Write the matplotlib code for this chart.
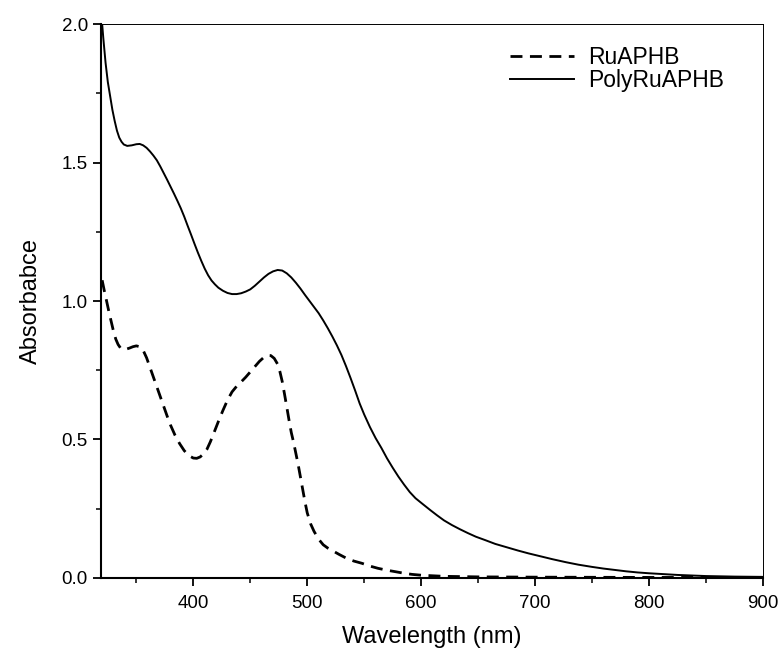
import matplotlib.pyplot as plt
from matplotlib.ticker import MultipleLocator

plt.rcParams['font.family'] = ['Liberation Sans', 'DejaVu Sans']

# PolyRuAPHB (solid)
wl_poly = [320, 321, 323, 325, 327, 329, 331, 333, 335, 337, 339, 342, 346, 350,
           353, 356, 359, 362, 365, 368, 371, 374, 377, 380, 383, 386, 389, 392,
           395, 398, 401, 404, 407, 410, 413, 416, 419, 422, 426, 430, 434, 438,
           442, 446, 450, 454, 458, 462, 466, 470, 474, 478, 482, 486, 490, 494,
           498, 502, 506, 510, 514, 518, 522, 526, 530, 534, 538, 542, 546, 550,
           555, 560, 565, 570, 575, 580, 585, 590, 595, 601, 608, 614, 620, 627,
           634, 641, 648, 656, 665, 675, 685, 694, 705, 715, 727, 738, 750, 760,
           770, 780, 790, 800, 825, 850, 875, 900]
abs_poly = [2.00, 1.95, 1.86, 1.79, 1.74, 1.69, 1.65, 1.615, 1.59, 1.575, 1.565,
            1.56, 1.562, 1.566, 1.567, 1.562, 1.553, 1.54, 1.525, 1.508, 1.486,
            1.462, 1.438, 1.413, 1.388, 1.362, 1.335, 1.305, 1.272, 1.24, 1.207,
            1.175, 1.145, 1.117, 1.093, 1.074, 1.06, 1.048, 1.037, 1.029, 1.025,
            1.025, 1.028, 1.034, 1.042, 1.055, 1.07, 1.085, 1.098, 1.107, 1.112,
            1.11, 1.10, 1.085, 1.066, 1.045, 1.022, 1.0, 0.978, 0.956, 0.93,
            0.902, 0.872, 0.84, 0.805, 0.765, 0.722, 0.677, 0.63, 0.59, 0.545,
            0.505, 0.47, 0.432, 0.398, 0.366, 0.337, 0.31, 0.288, 0.268, 0.245,
            0.226, 0.208, 0.191, 0.176, 0.162, 0.149, 0.137, 0.123, 0.111, 0.099,
            0.089, 0.078, 0.068, 0.057, 0.048, 0.04, 0.034, 0.029, 0.024, 0.02,
            0.017, 0.011, 0.007, 0.005, 0.004]

# RuAPHB (dashed)
wl_ru = [320, 322, 324, 326, 328, 330, 332, 334, 336, 338, 341, 344, 347, 350,
         353, 356, 359, 362, 365, 368, 371, 374, 377, 380, 384, 388, 392, 396,
         400, 403, 406, 409, 412, 415, 418, 422, 426, 430, 434, 438, 442, 446,
         450, 454, 458, 462, 465, 468, 471, 474, 476, 478, 480, 482, 484, 486,
         488, 490, 492, 494, 496, 498, 500, 503, 506, 510, 514, 518, 522, 528,
         535, 541, 548, 555, 562, 570, 577, 585, 592, 600, 620, 650, 700, 800, 900]
abs_ru = [1.075, 1.035, 0.998, 0.96, 0.925, 0.89, 0.862, 0.843, 0.831, 0.825,
          0.826, 0.83, 0.835, 0.838, 0.835, 0.822, 0.795, 0.76, 0.725, 0.69,
          0.655, 0.62, 0.585, 0.552, 0.515, 0.485, 0.46, 0.442, 0.433, 0.432,
          0.437, 0.448, 0.465, 0.492, 0.523, 0.565, 0.605, 0.642, 0.672, 0.692,
          0.708, 0.725, 0.744, 0.763, 0.782, 0.797, 0.804, 0.803, 0.793, 0.772,
          0.745, 0.71, 0.665, 0.618, 0.57, 0.525, 0.49, 0.45, 0.41, 0.365, 0.32,
          0.275, 0.235, 0.195, 0.168, 0.14, 0.12, 0.108, 0.099, 0.085, 0.07,
          0.061, 0.053, 0.043, 0.035, 0.028, 0.023, 0.017, 0.013, 0.01, 0.006,
          0.004, 0.003, 0.002, 0.002]

fig = plt.figure(figsize=(7.83, 6.58), dpi=100)
ax = fig.add_axes([0.129, 0.1216, 0.8455, 0.8419])

ax.plot(wl_ru, abs_ru, color='black', lw=2.0, linestyle=(0, (4.3, 2.7)), label='RuAPHB')
ax.plot(wl_poly, abs_poly, color='black', lw=1.4, label='PolyRuAPHB')

ax.set_xlim(319, 900)
ax.set_ylim(0, 2.0)
ax.xaxis.set_major_locator(MultipleLocator(100))
ax.xaxis.set_minor_locator(MultipleLocator(50))
ax.yaxis.set_major_locator(MultipleLocator(0.5))
ax.yaxis.set_minor_locator(MultipleLocator(0.25))
ax.yaxis.set_major_formatter(plt.FormatStrFormatter('%.1f'))

ax.tick_params(which='major', direction='out', length=6, width=1.3, labelsize=13.5)
ax.tick_params(axis='x', which='major', pad=6)
ax.tick_params(which='minor', direction='out', length=3.5, width=1.1)
ax.tick_params(top=False, right=False)

for s in ['left', 'bottom']:
    ax.spines[s].set_linewidth(1.5)
for s in ['top', 'right']:
    ax.spines[s].set_linewidth(0.7)

ax.set_xlabel('Wavelength (nm)', fontsize=17, labelpad=10)
ax.set_ylabel('Absorbabce', fontsize=17, labelpad=14)

ax.legend(loc='upper left', bbox_to_anchor=(0.618, 0.96), frameon=False,
          fontsize=16.5, handlelength=2.8, handletextpad=0.6, borderpad=0,
          borderaxespad=0, labelspacing=0.0)

fig.savefig('out.png', dpi=100)
